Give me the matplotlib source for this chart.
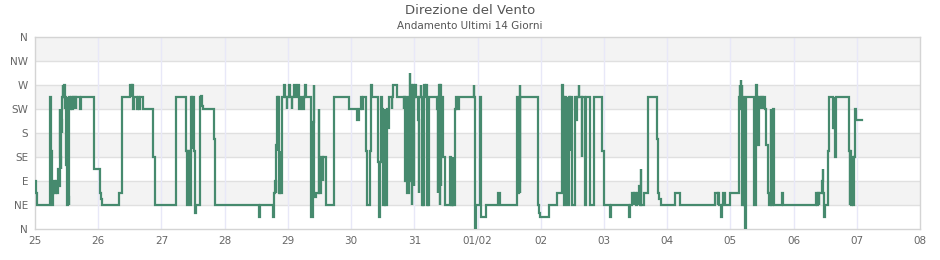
#!/usr/bin/env python3
"""Direzione del vento, ultimi 14 giorni."""

import matplotlib
matplotlib.use("Agg")
import matplotlib.pyplot as plt
import numpy as np

# giorni trascorsi dal 25/01 00:00 e direzione in gradi (0 = N)
giorni = [
    0.000, 0.020, 0.030, 0.243, 0.250, 0.262, 0.270, 0.280, 0.300, 0.315,
    0.330, 0.350, 0.370, 0.380, 0.390, 0.400, 0.405, 0.415, 0.425, 0.432,
    0.445, 0.450, 0.465, 0.475, 0.480, 0.492, 0.500, 0.505, 0.515, 0.520,
    0.530, 0.545, 0.560, 0.570, 0.585, 0.595, 0.610, 0.620, 0.645, 0.655,
    0.710, 0.720, 0.928, 1.034, 1.045, 1.055, 1.330, 1.380, 1.505, 1.530,
    1.540, 1.555, 1.565, 1.610, 1.625, 1.640, 1.660, 1.710, 1.870, 1.896,
    2.238, 2.396, 2.410, 2.420, 2.430, 2.440, 2.454, 2.465, 2.478, 2.485,
    2.517, 2.525, 2.540, 2.607, 2.625, 2.640, 2.660, 2.833, 2.844,
    3.550, 3.560, 3.770, 3.780, 3.800, 3.815, 3.820, 3.830, 3.840, 3.850,
    3.860, 3.870, 3.880, 3.900, 3.940, 3.955, 3.980, 3.990, 4.020, 4.030,
    4.060, 4.070, 4.090, 4.130, 4.160, 4.170, 4.180, 4.200, 4.240, 4.250,
    4.270, 4.280, 4.360, 4.370, 4.400, 4.410, 4.420, 4.440, 4.490, 4.500,
    4.520, 4.550, 4.560, 4.600, 4.730, 4.735, 4.970, 5.090, 5.120, 5.150,
    5.170, 5.190, 5.240, 5.245, 5.300, 5.320, 5.330, 5.420, 5.430, 5.440,
    5.460, 5.470, 5.490, 5.500, 5.530, 5.540, 5.570, 5.580, 5.600, 5.640,
    5.650, 5.670, 5.720, 5.830, 5.840, 5.860, 5.870, 5.890, 5.910, 5.930,
    5.935, 5.940, 5.950, 5.960, 5.970, 5.980, 5.990, 6.000, 6.010, 6.030,
    6.060, 6.070, 6.080, 6.100, 6.110, 6.120, 6.130, 6.140, 6.150, 6.160,
    6.170, 6.180, 6.200, 6.210, 6.220, 6.230, 6.360, 6.370, 6.380, 6.390,
    6.400, 6.410, 6.420, 6.430, 6.450, 6.480, 6.570, 6.580, 6.590, 6.600,
    6.610, 6.620, 6.640, 6.660, 6.670, 6.700, 6.940, 6.950, 6.960, 6.970,
    7.040, 7.050, 7.140, 7.320, 7.350, 7.620, 7.630, 7.640, 7.650, 7.660,
    7.665, 7.670, 7.680, 7.950, 7.960, 7.970, 7.990, 8.130, 8.260, 8.340,
    8.350, 8.370, 8.380, 8.400, 8.410, 8.420, 8.440, 8.460, 8.470, 8.490,
    8.540, 8.560, 8.580, 8.600, 8.610, 8.650, 8.660, 8.700, 8.720, 8.780,
    8.840, 8.845, 8.970, 8.998, 9.090, 9.110, 9.390, 9.420, 9.450, 9.470,
    9.480, 9.500, 9.530, 9.550, 9.560, 9.570, 9.580, 9.590, 9.630, 9.690,
    9.840, 9.850, 9.870, 9.900, 10.120, 10.210, 10.760, 10.800, 10.810,
    10.820, 10.850, 10.870, 10.880, 10.910, 10.990, 11.140, 11.150, 11.160,
    11.165, 11.170, 11.180, 11.190, 11.200, 11.210, 11.230, 11.240, 11.380,
    11.410, 11.420, 11.440, 11.450, 11.480, 11.490, 11.510, 11.520, 11.550,
    11.560, 11.600, 11.610, 11.640, 11.650, 11.680, 11.690, 11.810, 11.840,
    12.350, 12.370, 12.380, 12.400, 12.410, 12.450, 12.460, 12.470, 12.480,
    12.500, 12.550, 12.560, 12.630, 12.640, 12.645, 12.660, 12.670, 12.880,
    12.890, 12.900, 12.910, 12.930, 12.940, 12.950, 12.970, 12.980, 13.080,
]
direzione = [
    90, 67.5, 45, 247.5, 146, 67.5, 45, 67.5, 90, 67.5,
    90, 67.5, 112, 80, 225, 135, 112, 204, 180, 247.5,
    270, 247.5, 270, 225, 247.5, 120, 56, 45, 247.5, 60,
    45, 247.5, 225, 247.5, 225, 247.5, 225, 247.5, 225, 247.5,
    225, 247.5, 112.5, 67.5, 56, 45, 67.5, 247.5, 270, 247.5,
    270, 225, 247.5, 225, 247.5, 225, 247.5, 225, 135, 45,
    247.5, 147, 45, 147, 45, 147, 45, 247.5, 150, 247.5,
    147, 30, 45, 247.5, 250, 230, 225, 169, 45,
    22.5, 45, 22.5, 67.5, 90, 67.5, 157, 247.5, 147, 247.5,
    67.5, 147, 67.5, 247.5, 270, 247.5, 225, 247.5, 270, 247.5,
    225, 247.5, 270, 247.5, 270, 247.5, 225, 247.5, 225, 247.5,
    270, 247.5, 125, 22.5, 200, 270, 60, 67.5, 225, 67.5,
    135, 90, 135, 45, 147, 247.5, 225, 204, 225, 247.5,
    225, 247.5, 147, 45, 147, 270, 247.5, 225, 125, 22.5,
    125, 247.5, 225, 45, 225, 45, 225, 190, 247.5, 225,
    247.5, 270, 247.5, 225, 247.5, 90, 247.5, 67.5, 247.5, 293,
    250, 90, 270, 45, 247.5, 270, 80, 247.5, 270, 247.5,
    204, 67.5, 247.5, 270, 247.5, 45, 247.5, 45, 247.5, 270,
    247.5, 270, 45, 247.5, 45, 247.5, 225, 67.5, 247.5, 270,
    45, 270, 80, 247.5, 135, 45, 135, 45, 135, 45,
    135, 45, 225, 247.5, 225, 247.5, 270, 247.5, 0, 45,
    247.5, 22.5, 45, 67.5, 45, 135, 247.5, 67.5, 247.5, 90,
    270, 67.5, 247.5, 147, 45, 30, 22.5, 45, 67.5, 270,
    247.5, 45, 247.5, 147, 247.5, 45, 247.5, 147, 247.5, 45,
    247.5, 204, 247.5, 270, 247.5, 135, 247.5, 45, 247.5, 45,
    147, 247.5, 147, 45, 22.5, 45, 22.5, 45, 67.5, 45,
    67.5, 45, 67.5, 45, 80, 45, 112, 45, 67.5, 247.5,
    169, 67.5, 56, 45, 67.5, 45, 67.5, 45, 67.5,
    45, 22.5, 45, 67.5, 45, 67.5, 247.5, 270, 247.5,
    280, 225, 270, 45, 247.5, 45, 0, 247.5, 45,
    270, 247.5, 157, 247.5, 225, 247.5, 225, 247.5, 225,
    157, 67.5, 45, 225, 45, 225, 45, 67.5, 45,
    67.5, 45, 67.5, 45, 67.5, 90, 112, 67.5, 22.5,
    45, 147, 247.5, 190, 247.5, 190, 135, 247.5, 147,
    45, 147, 45, 135, 45, 135, 225, 204, 204,
]

etichette_y = ["N", "NE", "E", "SE", "S", "SW", "W", "NW", "N"]
etichette_x = ["25", "26", "27", "28", "29", "30", "31", "01/02",
               "02", "03", "04", "05", "06", "07", "08"]

COLORE_LINEA = "#468a6e"


def main() -> None:
    fig = plt.figure(figsize=(9.4, 2.6), dpi=100)
    ax = fig.add_axes([35 / 940, 1 - 229 / 260, 885 / 940, 192 / 260])

    # bande alternate
    for i in range(8):
        if i % 2 == 1:
            ax.axhspan(i * 45, (i + 1) * 45, color="#f3f3f3", zorder=0, lw=0)
    for k in range(1, 8):
        ax.axhline(k * 45, color="#e0e0e0", lw=1.0, zorder=1)
    for k in range(1, 14):
        ax.axvline(k, color="#e8e8f8", lw=1.0, zorder=1)

    ax.plot(giorni, direzione, drawstyle="steps-post", color=COLORE_LINEA,
            lw=1.6, zorder=3, solid_joinstyle="miter")

    ax.set_xlim(0, 14)
    ax.set_ylim(0, 360)
    ax.set_yticks(np.arange(0, 361, 45))
    ax.set_yticklabels(etichette_y)
    ax.set_xticks(np.arange(0, 15))
    ax.set_xticklabels(etichette_x)
    ax.tick_params(length=0, labelsize=7.5, colors="#666666", pad=5)
    for s in ax.spines.values():
        s.set_color("#d4d4d4")
        s.set_linewidth(1.0)

    fig.text(0.5, 1 - 10 / 260, "Direzione del Vento", ha="center", va="center",
             fontsize=9.5, color="#555555")
    fig.text(0.5, 1 - 26 / 260, "Andamento Ultimi 14 Giorni", ha="center",
             va="center", fontsize=7.5, color="#555555")

    fig.savefig("out.png", dpi=100)
    plt.close(fig)


if __name__ == "__main__":
    main()
